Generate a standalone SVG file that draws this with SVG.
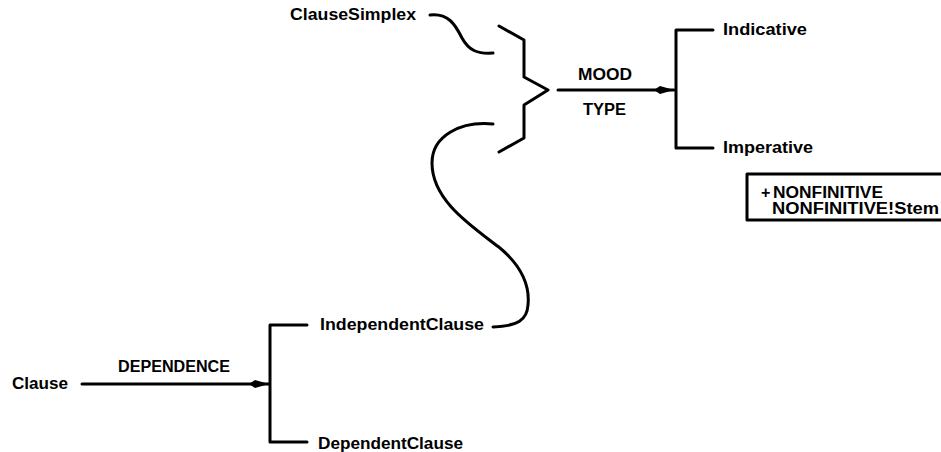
<svg xmlns="http://www.w3.org/2000/svg" width="941" height="452" viewBox="0 0 941 452">
<style>
.t{font-family:"Liberation Sans",Arial,sans-serif;font-weight:bold;font-size:16px;fill:#000}
.ln{fill:none;stroke:#000;stroke-width:3;stroke-linecap:round;stroke-linejoin:round}
</style>
<defs>
<marker id="ah" markerUnits="userSpaceOnUse" markerWidth="22" markerHeight="12" refX="20" refY="6" orient="auto">
<path d="M0,6 L6,2 L20,6 L6,10 Z" fill="#000"/>
</marker>
</defs>
<rect width="941" height="452" fill="#fff"/>
<g id="connectors">
<path class="ln" d="M430,15 C448,13 455,24 462,38 C469,51 478,54 493,53"/>
<path class="ln" d="M493,124 C460,121 432,136 432,163 C432,200 470,225 500,248 C520,265 530,285 528,305 C527,320 518,326 493,327"/>
<path class="ln" d="M499,26 L524,40 L524,77 L548,90 L524,105 L524,138 L499,152"/>
<path class="ln" d="M558,90 L674,90" marker-end="url(#ah)"/>
<path class="ln" d="M713,30 H676 V148 H713"/>
<path class="ln" d="M82,384 L269,384" marker-end="url(#ah)"/>
<path class="ln" d="M307,325 H270 V442 H307"/>
</g>
<g id="ClauseSimplex"><text class="t" x="290" y="20" textLength="126" lengthAdjust="spacingAndGlyphs">ClauseSimplex</text></g>
<g id="mood-label"><text class="t" x="578" y="80" textLength="54" lengthAdjust="spacingAndGlyphs">MOOD</text></g>
<g id="type-label"><text class="t" x="583" y="115" textLength="43" lengthAdjust="spacingAndGlyphs">TYPE</text></g>
<g id="Indicative"><text class="t" x="723" y="35" textLength="84" lengthAdjust="spacingAndGlyphs">Indicative</text></g>
<g id="Imperative"><text class="t" x="723" y="153" textLength="90" lengthAdjust="spacingAndGlyphs">Imperative</text></g>
<g id="realization-box">
<path class="ln" d="M944,174 H747 V220 H944"/>
<text class="t" x="761" y="198" font-size="13">+</text>
<text class="t" x="773" y="198" textLength="110" lengthAdjust="spacingAndGlyphs">NONFINITIVE</text>
<text class="t" x="772" y="214" textLength="167" lengthAdjust="spacingAndGlyphs">NONFINITIVE!Stem</text>
</g>
<g id="Clause"><text class="t" x="12" y="389" textLength="56" lengthAdjust="spacingAndGlyphs">Clause</text></g>
<g id="dependence-label"><text class="t" x="118" y="372" textLength="112" lengthAdjust="spacingAndGlyphs">DEPENDENCE</text></g>
<g id="IndependentClause"><text class="t" x="320" y="330" textLength="164" lengthAdjust="spacingAndGlyphs">IndependentClause</text></g>
<g id="DependentClause"><text class="t" x="318" y="449" textLength="145" lengthAdjust="spacingAndGlyphs">DependentClause</text></g>
</svg>
